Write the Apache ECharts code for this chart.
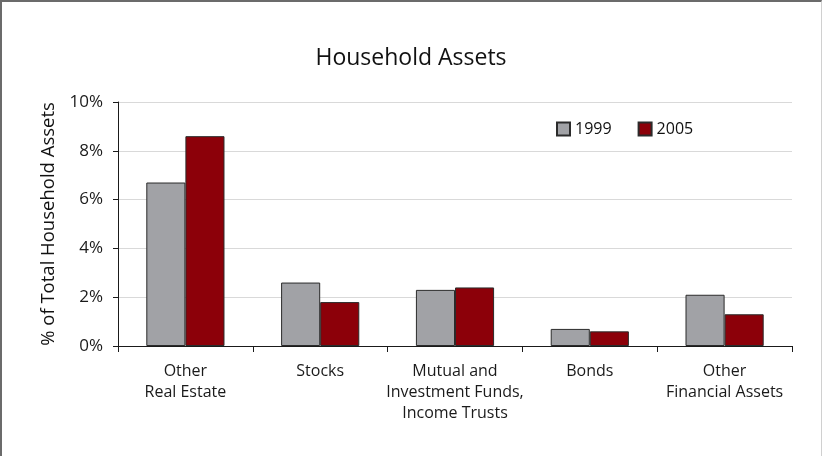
<!DOCTYPE html>
<html>
<head>
<meta charset="utf-8">
<script src="https://cdn.jsdelivr.net/npm/echarts@6/dist/echarts.min.js"></script>
<style>
html,body{margin:0;padding:0;background:#fff;}
#frame{position:absolute;left:0;top:0;width:819px;height:454px;border-top:2px solid #6b6b6b;border-left:2px solid #6b6b6b;border-right:1px solid #d0d0d0;border-bottom:1px solid #d0d0d0;}
#chart{position:absolute;left:0;top:0;width:822px;height:456px;}
</style>
</head>
<body>
<div id="frame"></div>
<div id="chart"></div>
<script>
const categories = ["Other\nReal Estate", "Stocks", "Mutual and\nInvestment Funds,\nIncome Trusts", "Bonds", "Other\nFinancial Assets"];
const values1999 = [6.7, 2.6, 2.3, 0.7, 2.1];
const values2005 = [8.6, 1.8, 2.4, 0.6, 1.3];
const yTicks = [0, 2, 4, 6, 8, 10];

const font = "'Open Sans', sans-serif";
const chart = echarts.init(document.getElementById('chart'), null, {renderer: 'canvas'});
chart.setOption({
  animation: false,
  textStyle: {fontFamily: font},
  title: {
    text: 'Household Assets',
    left: 'center',
    top: 42,
    textStyle: {fontFamily: font, fontSize: 23, fontWeight: 'normal', color: '#111'}
  },
  legend: {
    data: ['1999', '2005'],
    left: 551,
    top: 116,
    itemWidth: 13,
    itemHeight: 13,
    itemGap: 26,
    textStyle: {fontFamily: font, fontSize: 16, color: '#111'},
    icon: 'rect'
  },
  grid: {left: 118, right: 30, top: 102, bottom: 110, containLabel: false},
  xAxis: {
    type: 'category',
    data: categories,
    axisLine: {lineStyle: {color: '#1a1a1a', width: 1}},
    axisTick: {show: true, alignWithLabel: false, length: 6, lineStyle: {color: '#1a1a1a'}},
    axisLabel: {fontFamily: font, fontSize: 16, color: '#1a1a1a', lineHeight: 21, margin: 15, interval: 0},
    splitLine: {show: false}
  },
  yAxis: {
    type: 'value',
    min: 0,
    max: 10,
    interval: 2,
    name: '% of Total Household Assets',
    nameLocation: 'middle',
    nameGap: 49,
    nameTextStyle: {fontFamily: font, fontSize: 18.5, color: '#111'},
    axisLine: {show: true, lineStyle: {color: '#1a1a1a'}},
    axisTick: {show: true, length: 5, lineStyle: {color: '#1a1a1a'}},
    axisLabel: {fontFamily: font, fontSize: 17, color: '#1a1a1a', margin: 15,
      formatter: function (v) { return yTicks.indexOf(v) >= 0 ? v + '%' : ''; }},
    splitLine: {show: true, lineStyle: {color: '#d9d9d9', width: 1}}
  },
  series: [
    {
      name: '1999', type: 'bar', data: values1999,
      barGap: '0%', barCategoryGap: '42%',
      itemStyle: {color: '#a1a2a6', borderColor: '#2b2b2b', borderWidth: 1}
    },
    {
      name: '2005', type: 'bar', data: values2005,
      itemStyle: {color: '#8c0009', borderColor: '#2b2b2b', borderWidth: 1}
    }
  ]
});
</script>
</body>
</html>
